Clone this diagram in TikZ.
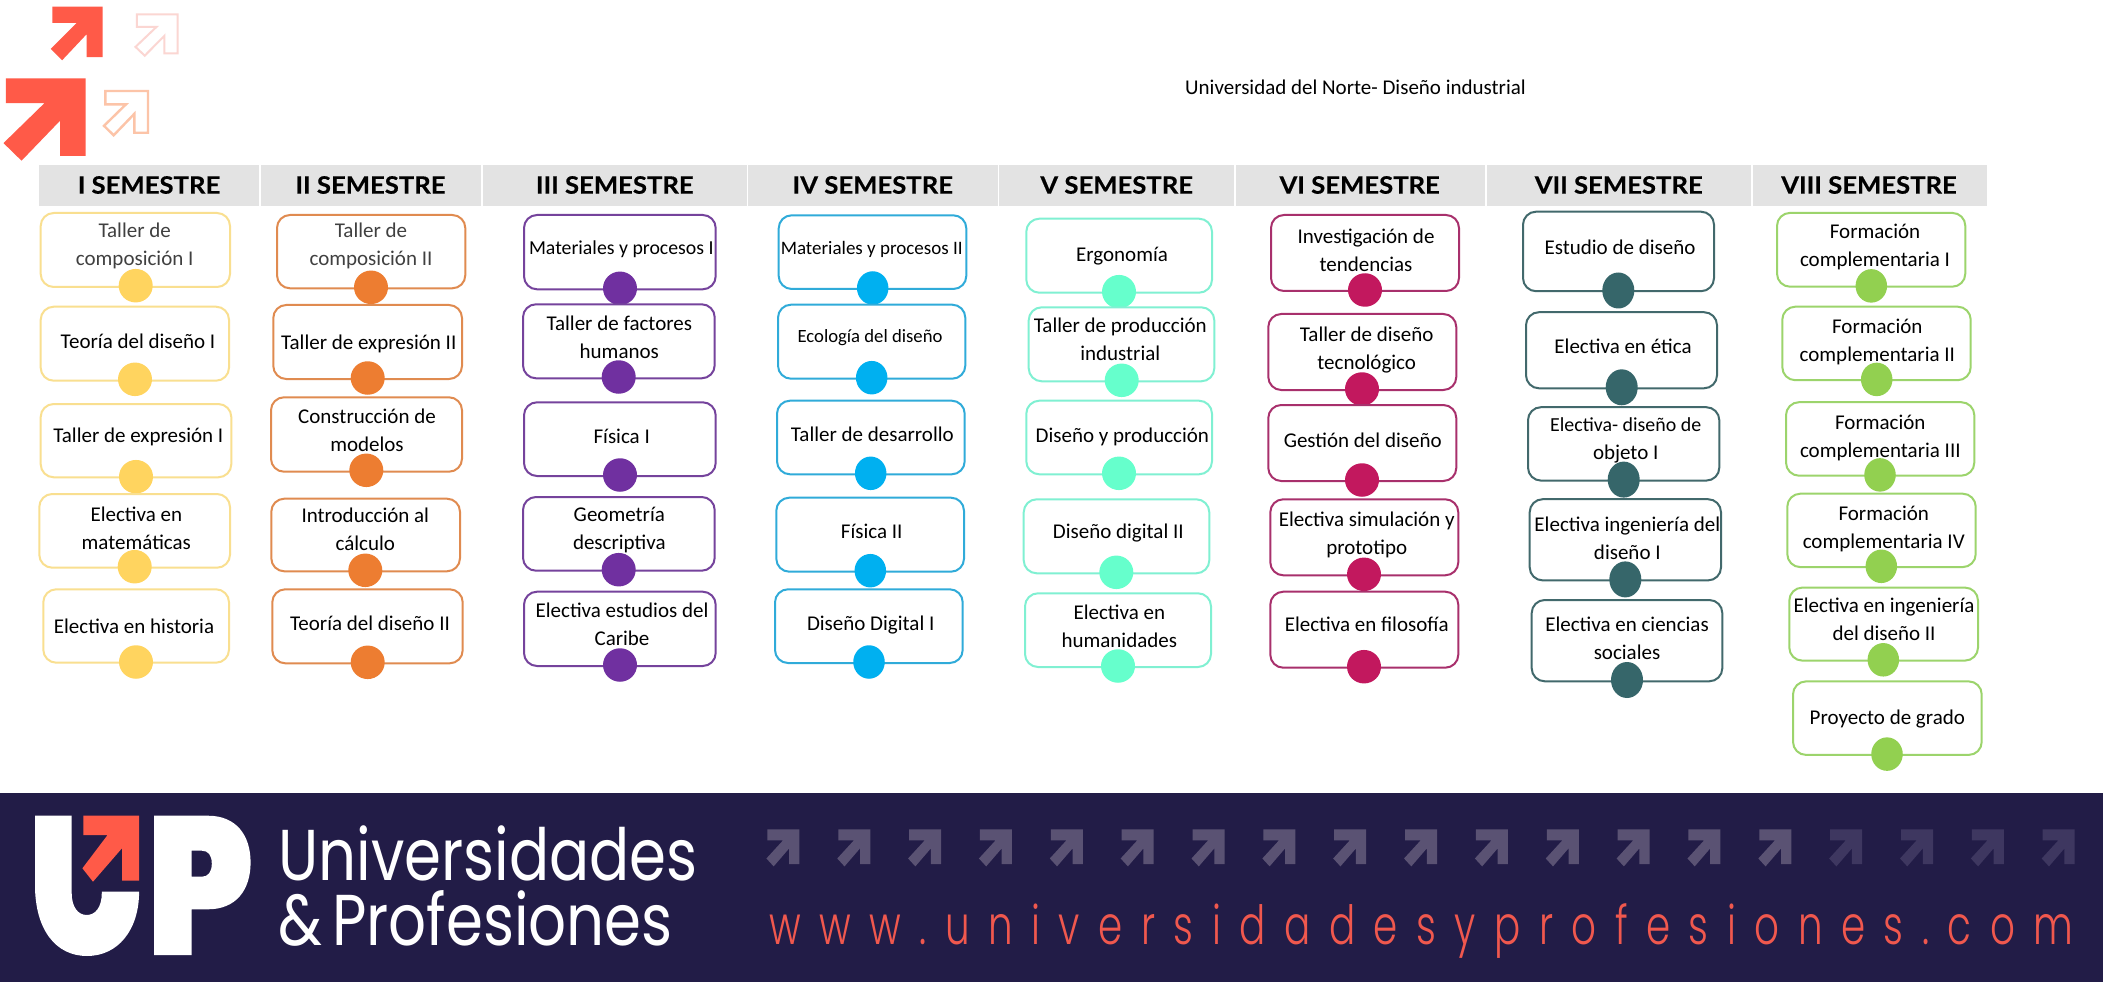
\documentclass[tikz,border=0pt]{standalone}
\usepackage{graphicx}
\usepackage{fontspec}
\setmainfont{Carlito}
\newfontfamily\headf{Lato}[UprightFont=* Bold,FakeStretch=1.07,FakeBold=0.4]
\newfontfamily\logof{Poppins}
\newfontfamily\urlf{Poppins Light}[FakeStretch=0.72]
\usetikzlibrary{shapes.geometric}
\definecolor{cAl}{HTML}{F9DF90}\definecolor{cAd}{HTML}{FFD45F}
\definecolor{cBl}{HTML}{E08B50}\definecolor{cBd}{HTML}{ED7D31}
\definecolor{cCl}{HTML}{75439C}\definecolor{cCd}{HTML}{7030A0}
\definecolor{cDl}{HTML}{30ABD9}\definecolor{cDd}{HTML}{00B0F0}
\definecolor{cEl}{HTML}{80F0D2}\definecolor{cEd}{HTML}{66FFCC}
\definecolor{cFl}{HTML}{A8306C}\definecolor{cFd}{HTML}{C2185E}
\definecolor{cGl}{HTML}{42696C}\definecolor{cGd}{HTML}{36666A}
\definecolor{cHl}{HTML}{9CD46C}\definecolor{cHd}{HTML}{92D050}
\definecolor{navy}{HTML}{221C47}
\definecolor{upred}{HTML}{FF5A48}
\definecolor{urlred}{HTML}{F0584E}
\definecolor{hdr}{HTML}{E3E3E3}
\tikzset{
 coursebox/.style={draw,rectangle,rounded corners=13pt,line width=2pt,fill=white,inner sep=0pt},
 coursedot/.style={ellipse,inner sep=0pt,draw=none},
 coursetext/.style={align=center,inner sep=0pt,text=black,font=\fontsize{21}{28}\selectfont},
 hdrbox/.style={rectangle,fill=hdr,inner sep=0pt},
 hdrtext/.style={inner sep=0pt,text=black,font=\headf\fontsize{24}{28}\selectfont},
}
\newcommand{\course}[9]{%
 \pgfmathsetmacro\bw{#4-#2}\pgfmathsetmacro\bh{#5-#3}%
 \pgfmathsetmacro\bx{(#2+#4)/2}\pgfmathsetmacro\by{(#3+#5)/2}%
 \node[coursebox,draw=\cc l,minimum width=\bw pt,minimum height=\bh pt] (#1) at (\bx,\by) {};
 \node[coursetext] (#1t) at (#8) {#9};
 \node[coursedot,fill=\cc d,minimum width=\dw pt,minimum height=\dh pt] (#1d) at (#6,#7) {};
}
\newcommand{\UParrow}[5]{%
 \begin{scope}[shift={(#1pt,-#2pt)},x=#3pt,y=-#4pt]
 \path[#5] (0.03,0)--(1,0)--(1,0.97)--(0.69,0.97)--(0.69,0.53)--(0.22,1.03)--(0,0.81)--(0.5,0.31)--(0.03,0.31)--cycle;
 \end{scope}}
\newcommand{\gr}[1]{\textcolor[HTML]{404040}{#1}}
\begin{document}
\begin{tikzpicture}[x=1pt,y=-1pt]
\useasboundingbox (0,0) rectangle (2120,992);
\fill[white] (0,0) rectangle (2120,992);
% top arrows
\UParrow{50.7}{6.7}{52}{52}{fill=upred}
\UParrow{3.5}{78.3}{82}{80}{fill=upred}
\UParrow{135.5}{14.5}{42}{40}{draw={rgb,255:red,251;green,214;blue,210},line width=2pt}
\UParrow{104}{91}{44}{43}{draw={rgb,255:red,252;green,196;blue,168},line width=2.4pt}
% title
\node[inner sep=0pt,font=\fontsize{21}{24}\selectfont] (title) at (1355.5,87.5) {Universidad del Norte- Diseño industrial};
% header
\foreach \n/\a/\b/\tx/\t in {
 a/39.3/259/149/I SEMESTRE, b/260.5/481/370.5/II SEMESTRE, c/482.5/746.5/614.8/III SEMESTRE,
 d/748/997.5/872.8/IV SEMESTRE, e/999/1234/1116.7/V SEMESTRE, f/1235.5/1485/1359.7/VI SEMESTRE,
 g/1486.5/1751/1618.7/VII SEMESTRE, h/1752.5/1987/1869/VIII SEMESTRE}{
 \path[fill=hdr] (\a,165) rectangle (\b,205.7);
 \node[hdrtext] (h\n) at (\tx,185) {\t};
}
% I
\def\cc{cA}\def\dw{34}\def\dh{33.5}
\course{a1}{40.7}{213}{230}{287}{135.7}{285.7}{134.7,246}{\gr{Taller de}\\\gr{composición I}}
\course{a2}{40.7}{306.7}{229}{380.7}{135}{379.3}{138,341.7}{Teoría del diseño I}
\course{a3}{40.7}{404}{231.3}{477.3}{136}{476.7}{138.3,436.7}{Taller de expresión I}
\course{a4}{39.3}{494}{230}{567.7}{134.7}{566.7}{136.3,528.7}{Electiva en\\matemáticas}
\course{a5}{43.3}{589.3}{229}{662.7}{136}{662}{134,626.7}{Electiva en historia}
% II
\def\cc{cB}
\course{b1}{277}{215}{465.3}{288.3}{371}{287.3}{371,246}{\gr{Taller de}\\\gr{composición II}}
\course{b2}{273.3}{305}{462}{379}{367.7}{378}{368.7,344.3}{Taller de expresión II}
\course{b3}{271}{397.3}{462}{471.7}{366.3}{470.3}{367,430.7}{Construcción de\\modelos}
\course{b4}{271.3}{498.7}{460}{571.3}{365.3}{570.3}{365.3,529.3}{Introducción al\\cálculo}
\course{b5}{272.3}{589.3}{462.7}{663.3}{367.7}{662.3}{370,623.3}{Teoría del diseño II}
% III
\def\cc{cC}
\course{c1}{524}{215}{715.7}{289.3}{620}{288.3}{621.3,249.7}{\fontsize{19.8}{28}\selectfont Materiales y procesos I}
\course{c2}{523}{304.3}{714.7}{378.3}{618.7}{377}{619.3,337.3}{Taller de factores\\humanos}
\course{c3}{524}{402.3}{715.7}{476}{620}{475}{621.7,436.7}{Física I}
\course{c4}{523}{497}{714.7}{570.7}{618.7}{569.7}{619.3,530.3}{Geometría\\descriptiva}
\course{c5}{524}{591.7}{715.7}{666}{620}{665}{622,624.3}{Electiva estudios del\\Caribe}
% IV
\def\cc{cD}\def\dw{31.5}
\course{d1}{778.7}{215.3}{966.3}{289}{872.7}{288}{871.7,249.3}{\fontsize{19}{28}\selectfont Materiales y procesos II}
\course{d2}{778}{304.7}{965.3}{378.7}{871.7}{377.7}{870,337.3}{\fontsize{18.7}{28}\selectfont Ecología del diseño}
\course{d3}{777}{400.7}{964.7}{474.3}{870.7}{473.3}{872.3,434.7}{Taller de desarrollo}
\course{d4}{776.3}{497.7}{964}{571.7}{870.3}{570.7}{871.7,531.7}{Física II}
\course{d5}{775}{589.3}{962.7}{663}{869}{662}{870.7,625.3}{Diseño Digital I}
% V
\def\cc{cE}\def\dw{34}
\course{e1}{1026.3}{218.7}{1212}{292.7}{1119}{291.7}{1122,256.2}{Ergonomía}
\course{e2}{1028.7}{307.3}{1214.3}{381.3}{1121.7}{380.3}{1120.3,339.5}{Taller de producción\\industrial}
\course{e3}{1026.3}{400.7}{1212}{474.3}{1119}{473.3}{1122.3,436.7}{Diseño y producción}
\course{e4}{1023.7}{499.3}{1209.3}{573.3}{1116.3}{572.3}{1118.3,533.3}{Diseño digital II}
\course{e5}{1025}{593.3}{1211}{667}{1118}{666}{1119.3,626.7}{Electiva en\\humanidades}
% VI
\def\cc{cF}
\course{f1}{1271}{215}{1459}{291}{1365}{290}{1366,250.7}{Investigación de\\tendencias}
\course{f2}{1268.3}{314}{1456.3}{390}{1362}{389}{1366.7,350.3}{Taller de diseño\\tecnológico}
\course{f3}{1268.3}{405}{1456.3}{481}{1362}{480}{1362.7,440.7}{Gestión del diseño}
\course{f4}{1270.3}{499.3}{1458.3}{575.3}{1364}{574.3}{1366.7,534.7}{Electiva simulación y\\prototipo}
\course{f5}{1270.3}{591.7}{1458.3}{667.7}{1364}{666.7}{1366.7,624.3}{Electiva en filosofía}
% VII
\def\cc{cG}\def\dw{32}\def\dh{36}
\course{g1}{1523}{211.7}{1714}{291.2}{1618.3}{290.5}{1620,247.5}{Estudio de diseño}
\course{g2}{1526}{312.2}{1717}{388.3}{1621.7}{387.3}{1623,346.3}{Electiva en ética}
\course{g3}{1528}{407.2}{1719.3}{480.6}{1623.7}{479.6}{1625.7,440}{\fontsize{19.9}{25.5}\selectfont Electiva- diseño de\\objeto I}
\course{g4}{1529.7}{499.2}{1721}{580.4}{1625.3}{579.4}{1627.3,538.5}{Electiva ingeniería del\\diseño I}
\course{g5}{1531.7}{600}{1722.3}{681.3}{1627}{680}{1627,638.7}{Electiva en ciencias\\sociales}
% VIII
\def\cc{cH}\def\dw{31.5}\def\dh{33.5}
\course{h1}{1777}{212.9}{1965.3}{286.7}{1871.3}{285.9}{1875,247}{Formación\\complementaria I}
\course{h2}{1782.3}{306.7}{1970.7}{380.2}{1876.7}{379.4}{1877.3,341.7}{Formación\\complementaria II}
\course{h3}{1786}{402.2}{1974.3}{475.7}{1880}{474.9}{1880.3,437.8}{Formación\\complementaria III}
\course{h4}{1787.3}{493.7}{1975.7}{567.1}{1881.3}{566.3}{1883.7,528.8}{Formación\\complementaria IV}
\course{h5}{1789.3}{587.6}{1978}{660.6}{1883.3}{659.8}{1884,619.4}{Electiva en ingeniería\\del diseño II}
\course{h6}{1793}{681.4}{1981.7}{754.9}{1887}{754.1}{1887.3,719.3}{Proyecto de grado}
% footer
\fill[navy] (0,793) rectangle (2102.5,981.7);
% logo U
\path[fill=white] (35,815.7)--(71.7,815.7)--(71.7,893) .. controls (71.7,907) and (78,915) .. (86.7,915) .. controls (95.5,915) and (101.8,907) .. (101.8,893)--(101.8,891.7)--(139.1,891.7) .. controls (139.1,930) and (118,956) .. (87,956) .. controls (56,956) and (35,930) .. (35,885)--cycle;
\path[fill=upred] (83.4,815.7)--(139.1,815.7)--(139.1,880.7)--(122.2,880.7)--(122.2,848)--(93,881.7)--(82.4,868.3)--(107.6,835)--(83.4,835)--cycle;
% logo P
\path[fill=white,even odd rule] (154.1,815.7)--(208,815.7) .. controls (236,815.7) and (250.6,835) .. (250.6,862.5) .. controls (250.6,890) and (236,909.3) .. (208,909.3)--(191.5,909.3)--(191.5,955)--(154.1,955)--cycle
 (191.5,850.7)--(202,850.7) .. controls (208,850.7) and (211.8,855) .. (211.8,863.7) .. controls (211.8,872) and (208,876.7) .. (202,876.7)--(191.5,876.7)--cycle;
\node[anchor=base west,inner sep=0pt,text=white] (logoa) at (278,880) {\scalebox{0.826}[1]{\logof\fontsize{72}{72}\selectfont Universidades}};
\node[anchor=base west,inner sep=0pt,text=white] (logob) at (278,945) {\scalebox{0.826}[1]{\logof\fontsize{72}{72}\selectfont \&\,Profesiones}};
% footer arrows
\foreach \i in {0,...,14}{\UParrow{766.4+70.85*\i}{829.3}{33}{36}{fill={rgb,255:red,90;green,82;blue,115}}}
\foreach \i in {15,...,18}{\UParrow{766.4+70.85*\i}{829.3}{33}{36}{fill={rgb,255:red,62;green,55;blue,96}}}
\node[anchor=base west,inner sep=0pt,text=urlred] (url) at (769,944) {\makebox[1304pt][s]{\urlf\fontsize{54}{54}\selectfont w\hfill w\hfill w\hfill .\hfill u\hfill n\hfill i\hfill v\hfill e\hfill r\hfill s\hfill i\hfill d\hfill a\hfill d\hfill e\hfill s\hfill y\hfill p\hfill r\hfill o\hfill f\hfill e\hfill s\hfill i\hfill o\hfill n\hfill e\hfill s\hfill .\hfill c\hfill o\hfill m}};
\end{tikzpicture}
\end{document}
